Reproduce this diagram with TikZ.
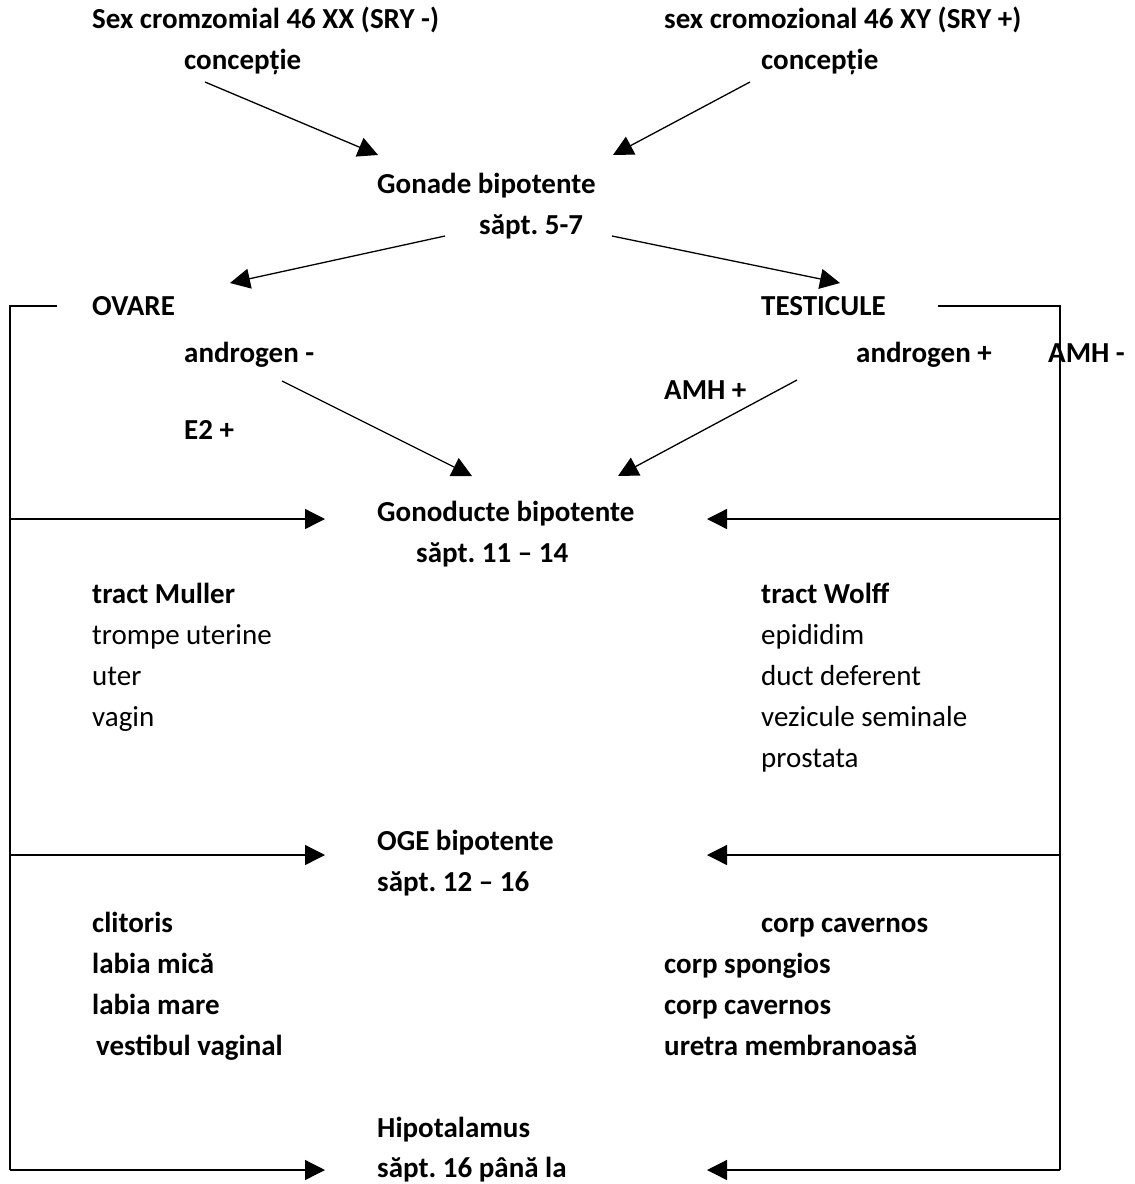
\documentclass[tikz,border=0pt]{standalone}
\usepackage{fontspec}
\setmainfont{Carlito}
\usetikzlibrary{arrows.meta}
\begin{document}
\frenchspacing
\begin{tikzpicture}[x=1pt,y=-1pt,
  lbl/.style={anchor=west,inner sep=0pt,font=\fontsize{29}{34}\selectfont\bfseries,
              text height=20pt,text depth=6pt},
  plain/.style={lbl,font=\fontsize{29}{34}\selectfont},
  link/.style={line width=1.3pt,-{Triangle[length=20pt,width=20pt]}},
  rail/.style={line width=1.3pt}]
\useasboundingbox (0,0) rectangle (1135,1184);

% chromosomal sex and conception
\node[lbl] (xx)  at (92,21)  {Sex cromzomial 46 XX (SRY -)};
\node[lbl] (xy)  at (664,21) {sex cromozional 46 XY (SRY +)};
\node[lbl] (cf)  at (184,62) {concepție};
\node[lbl] (cm)  at (761,62) {concepție};

% bipotential gonads
\node[lbl] (gon) at (377,186) {Gonade bipotente};
\node[lbl] (gw)  at (479,227) {săpt. 5-7};

% differentiated gonads and hormones
\node[lbl] (ov)  at (92,308)  {OVARE};
\node[lbl] (te)  at (761,308) {TESTICULE};
\node[lbl] (anm) at (184,355) {androgen -};
\node[lbl] (anp) at (856,355) {androgen +};
\node[lbl] (amm) at (1048,355) {AMH -};
\node[lbl] (amp) at (664,392) {AMH +};
\node[lbl] (e2)  at (184,432) {E2 +};

% bipotential ducts
\node[lbl] (duc) at (377,514) {Gonoducte bipotente};
\node[lbl] (dw)  at (416,555) {săpt. 11 – 14};
\node[lbl]   (mul) at (92,596) {tract Muller};
\node[plain] (m1)  at (92,637) {trompe uterine};
\node[plain] (m2)  at (92,678) {uter};
\node[plain] (m3)  at (92,719) {vagin};
\node[lbl]   (wol) at (761,596) {tract Wolff};
\node[plain] (w1)  at (761,637) {epididim};
\node[plain] (w2)  at (761,678) {duct deferent};
\node[plain] (w3)  at (761,719) {vezicule seminale};
\node[plain] (w4)  at (761,760) {prostata};

% external genitalia
\node[lbl] (oge) at (377,843) {OGE bipotente};
\node[lbl] (ow)  at (377,884) {săpt. 12 – 16};
\node[lbl] (f1)  at (92,925)  {clitoris};
\node[lbl] (f2)  at (92,966)  {labia mică};
\node[lbl] (f3)  at (92,1007) {labia mare};
\node[lbl] (f4)  at (96,1048) {vestibul vaginal};
\node[lbl] (h1)  at (761,925) {corp cavernos};
\node[lbl] (h2)  at (664,966) {corp spongios};
\node[lbl] (h3)  at (664,1007) {corp cavernos};
\node[lbl] (h4)  at (664,1048) {uretra membranoasă};

% hypothalamus
\node[lbl] (hip) at (377,1130) {Hipotalamus};
\node[lbl] (hw)  at (377,1170) {săpt. 16 până la};

% arrow end points
\coordinate (a1s) at (205,82);  \coordinate (a1e) at (378,155);
\coordinate (a2s) at (750,82);  \coordinate (a2e) at (613,155);
\coordinate (b1s) at (445,236); \coordinate (b1e) at (230,283);
\coordinate (b2s) at (612,236); \coordinate (b2e) at (840,283);
\coordinate (c1s) at (282,381); \coordinate (c1e) at (472,476);
\coordinate (c2s) at (797,380); \coordinate (c2e) at (618,476);

\draw[link] (a1s) -- (a1e);
\draw[link] (a2s) -- (a2e);
\draw[link] (b1s) -- (b1e);
\draw[link] (b2s) -- (b2e);
\draw[link] (c1s) -- (c1e);
\draw[link] (c2s) -- (c2e);

% female rail
\coordinate (lt) at (57,306);  \coordinate (lc) at (10,306);
\coordinate (lb) at (10,1170);
\draw[rail] (lt) -- (lc) -- (lb);
\coordinate (l1) at (10,519);  \coordinate (l1e) at (325,519);
\coordinate (l2) at (10,855);  \coordinate (l2e) at (325,855);
\coordinate (l3e) at (325,1170);
\draw[link] (l1) -- (l1e);
\draw[link] (l2) -- (l2e);
\draw[link] (lb) -- (l3e);

% male rail
\coordinate (rt) at (938,306); \coordinate (rc) at (1060,306);
\coordinate (rb) at (1060,1170);
\draw[rail] (rt) -- (rc) -- (rb);
\coordinate (r1) at (1060,519); \coordinate (r1e) at (707,519);
\coordinate (r2) at (1060,855); \coordinate (r2e) at (707,855);
\coordinate (r3e) at (707,1170);
\draw[link] (r1) -- (r1e);
\draw[link] (r2) -- (r2e);
\draw[link] (rb) -- (r3e);
\end{tikzpicture}
\end{document}
